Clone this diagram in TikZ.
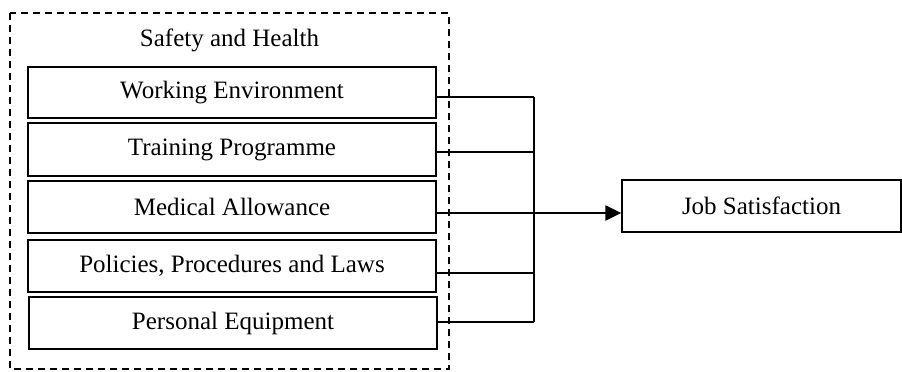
\documentclass[tikz,border=0pt]{standalone}
\usepackage{fontspec}
\setmainfont{Liberation Serif}
\usetikzlibrary{arrows.meta}
\begin{document}
\begin{tikzpicture}[x=1pt,y=-1pt,
  every node/.style={font=\fontsize{25}{30}\selectfont, inner sep=0pt},
  factor/.style={draw, line width=1.4pt, minimum width=408pt, minimum height=52pt},
  outcome/.style={draw, line width=1.4pt, minimum width=279pt, minimum height=52pt},
  link/.style={line width=1.4pt},
  mainarrow/.style={line width=2.4pt, -{Triangle[length=16pt,width=15pt]}}]
\useasboundingbox (0,0) rectangle (902,372);
\draw[line width=1.3pt, dash pattern=on 7pt off 5pt] (10,13) rectangle (449,369);
\node (title) at (229.5,40) {Safety and Health};
\node[factor, minimum height=51pt] (b1) at (232,92.5) {Working Environment};
\node[factor, minimum height=53pt] (b2) at (232,149.5) {Training Programme};
\node[factor] (b3) at (232,207) {Medical Allowance};
\node[factor] (b4) at (232,266) {Policies, Procedures and Laws};
\node[factor] (b5) at (233,323) {Personal Equipment};
\node[outcome] (js) at (761.5,206) {Job Satisfaction};
\path ([yshift=-4.5pt]b1.east) coordinate (e1);
\path ([yshift=-2.5pt]b2.east) coordinate (e2);
\path ([yshift=-6pt]b3.east) coordinate (e3);
\path ([yshift=-7pt]b4.east) coordinate (e4);
\path ([yshift=1pt]b5.east) coordinate (e5);
\coordinate (bt) at (534,97);
\coordinate (bb) at (534,322);
\draw[link] (bt) -- (bb);
\draw[link] (e1) -- (bt);
\draw[link] (e2) -- (e2 -| bt);
\draw[link] (e4) -- (e4 -| bt);
\draw[link] (e5) -- (e5 -| bb);
\draw[mainarrow] (e3) -- (e3 -| js.west);
\end{tikzpicture}
\end{document}
